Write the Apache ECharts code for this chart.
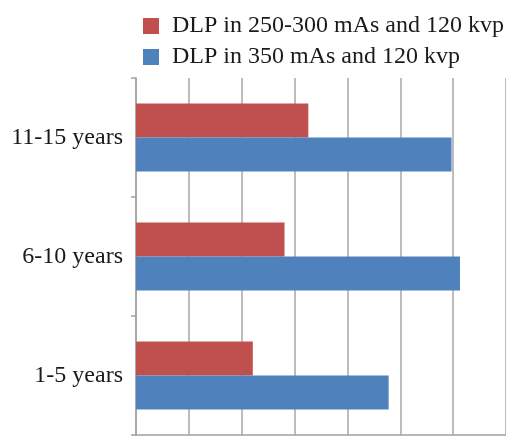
<!DOCTYPE html>
<html>
<head>
<meta charset="utf-8">
<script src="https://cdn.jsdelivr.net/npm/echarts@6/dist/echarts.min.js"></script>
<style>
  html, body { margin: 0; padding: 0; background: #fff; }
  #chart { width: 506px; height: 436px; }
</style>
</head>
<body>
<div id="chart"></div>
<script>
// Age groups, listed bottom to top on the category axis
const ageGroups = ['1-5 years', '6-10 years', '11-15 years'];
const seriesNames = ['DLP in 250-300 mAs and 120 kvp', 'DLP in 350 mAs and 120 kvp'];
// DLP values per age group
const dlpLow = [221, 281, 326];
const dlpHigh = [478, 613, 597];

const FONT = '"Liberation Serif", "Times New Roman", serif';
const chart = echarts.init(document.getElementById('chart'), null, { renderer: 'canvas' });

// One legend entry per row, stacked at the top
const legendRow = (name, top) => ({
  left: 143,
  top: top,
  padding: 0,
  itemWidth: 16,
  itemHeight: 16,
  icon: 'rect',
  textStyle: { fontFamily: FONT, fontSize: 24, color: '#1a1a1a', padding: [0, 0, 0, 8] },
  data: [name]
});

chart.setOption({
  animation: false,
  color: ['#C0504D', '#4F81BD'],
  legend: [legendRow(seriesNames[0], 14), legendRow(seriesNames[1], 45)],
  grid: { left: 136, right: 0, top: 78, bottom: 1, containLabel: false },
  xAxis: {
    type: 'value',
    min: 0,
    max: 700,
    interval: 100,
    axisLabel: { show: false },
    axisTick: { show: false },
    axisLine: { show: true, lineStyle: { color: '#a0a0a0', width: 1.5 } },
    splitLine: { show: true, lineStyle: { color: '#a6a6a6', width: 1.5 } }
  },
  yAxis: {
    type: 'category',
    data: ageGroups,
    axisLine: { show: true, lineStyle: { color: '#a0a0a0', width: 1.5 } },
    axisTick: { show: true, length: 5, lineStyle: { color: '#a0a0a0', width: 1.5 } },
    axisLabel: { fontFamily: FONT, fontSize: 24, color: '#1a1a1a', margin: 13 }
  },
  series: [
    {
      name: seriesNames[0],
      type: 'bar',
      data: dlpLow,
      barWidth: 34,
      barGap: '0%'
    },
    {
      name: seriesNames[1],
      type: 'bar',
      data: dlpHigh,
      barWidth: 34,
      barGap: '0%'
    }
  ]
});
</script>
</body>
</html>
